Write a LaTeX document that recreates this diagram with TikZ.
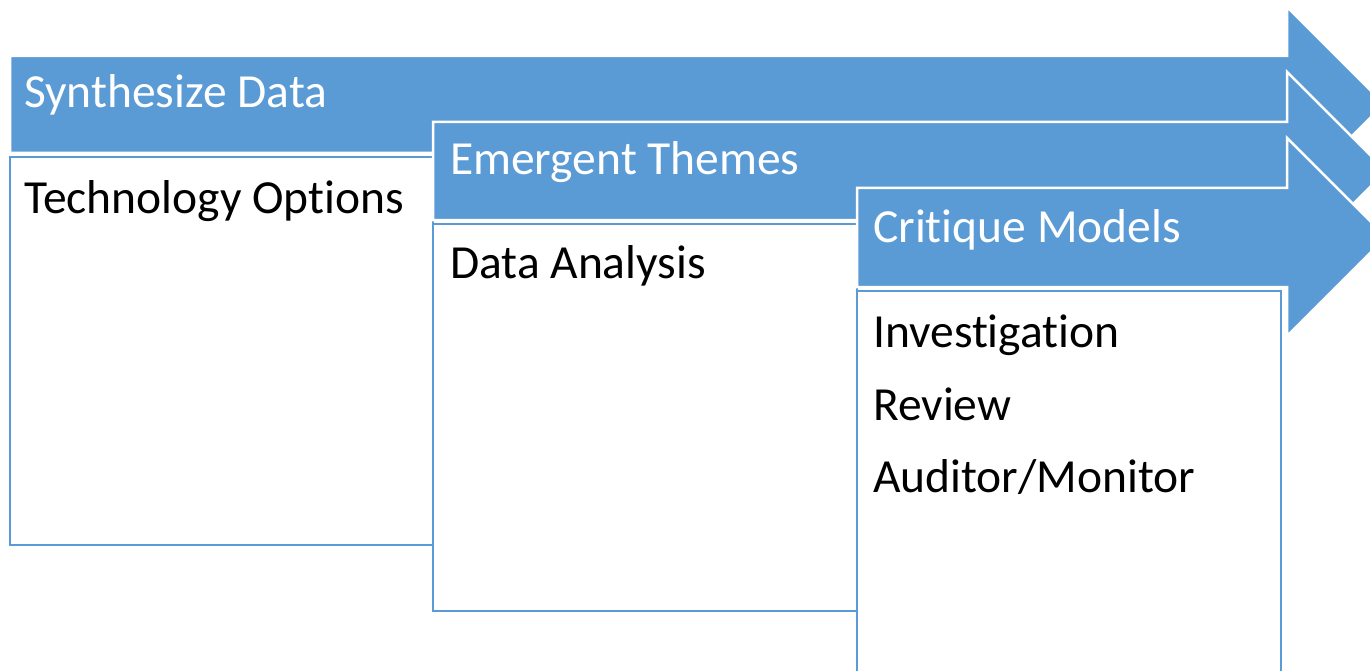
\documentclass[tikz,border=0pt]{standalone}
\usepackage{fontspec}
\setmainfont{Carlito}[Ligatures={NoCommon}]
\definecolor{accent}{HTML}{5B9BD5}
\tikzset{
  arrowshape/.style={fill=accent, draw=white, line width=2.5pt, line join=miter},
  listbox/.style={fill=white, draw=accent, line width=2.2pt},
  headtext/.style={anchor=base west, inner sep=0pt, text=white, font=\fontsize{47.5}{57}\selectfont},
  bodytext/.style={anchor=base west, inner sep=0pt, text=black, font=\fontsize{47.5}{57}\selectfont}
}
\begin{document}
\begin{tikzpicture}[x=1pt,y=-1pt]
\useasboundingbox (0,0) rectangle (1370,671);
\clip (0,0) rectangle (1370,671);
% arrow 1
\draw[arrowshape] (10,56) -- (1287,56) -- (1287,7) -- (1384,104) -- (1287,201) -- (1287,153) -- (10,153) -- cycle;
\node[headtext] (h1) at (24,108) {Synthesize Data};
% box 1
\draw[listbox] (10,157) rectangle (433,545);
\node[bodytext] (b1) at (24,213) {Technology Options};
% arrow 2
\draw[arrowshape] (433,122) -- (1287,122) -- (1287,72) -- (1386,171) -- (1287,270) -- (1287,220) -- (433,220) -- cycle;
\node[headtext] (h2) at (450,175) {Emergent Themes};
% box 2
\draw[listbox] (433,224) rectangle (857,611);
\node[bodytext] (b2) at (450,278) {Data Analysis};
% arrow 3
\draw[arrowshape] (857,188) -- (1287,188) -- (1287,138) -- (1386,237) -- (1287,336) -- (1287,287) -- (857,287) -- cycle;
\node[headtext] (h3) at (873,242) {Critique Models};
% box 3
\draw[listbox] (857,291) rectangle (1281,679);
\node[bodytext] (b3a) at (873,347) {Investigation};
\node[bodytext] (b3b) at (873,420) {Review};
\node[bodytext] (b3c) at (873,492) {Auditor/Monitor};
\end{tikzpicture}
\end{document}
